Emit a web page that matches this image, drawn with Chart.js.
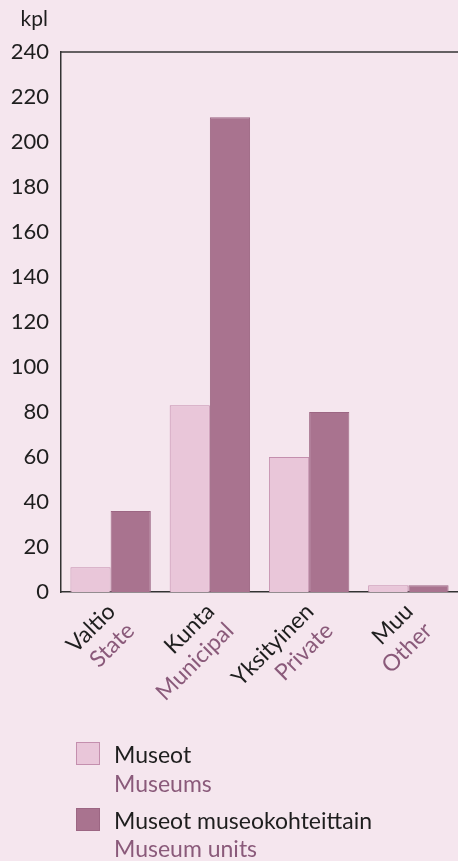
<!DOCTYPE html>
<html>
<head>
<meta charset="utf-8">
<script src="https://cdn.jsdelivr.net/npm/chart.js@4"></script>
<style>
html,body{margin:0;padding:0;background:#f5e6ee;}
#c{display:block;}
</style>
</head>
<body>
<canvas id="c" width="458" height="861"></canvas>
<script>
const categoriesFi = ["Valtio", "Kunta", "Yksityinen", "Muu"];
const categoriesEn = ["State", "Municipal", "Private", "Other"];
const museums = [11, 83, 60, 3];
const museumUnits = [36, 211, 80, 3];
const seriesFi = ["Museot", "Museot museokohteittain"];
const seriesEn = ["Museums", "Museum units"];
const yTicks = [0, 20, 40, 60, 80, 100, 120, 140, 160, 180, 200, 220, 240];
const unitLabel = "kpl";

const FONT = "Lato, 'Open Sans', sans-serif";
const DARK = "#1e1e1e";
const PINK_TEXT = "#8a5a7a";
const LIGHT_FILL = "#e9c6d9";
const LIGHT_BORDER = "#c48fae";
const DARK_FILL = "#a9738f";
const DARK_BORDER = "#9c6683";

const decor = {
  id: 'decor',
  afterDraw(chart) {
    const ctx = chart.ctx;
    const a = chart.chartArea;
    const x = chart.scales.x;
    ctx.save();
    // top frame line
    ctx.strokeStyle = "#333";
    ctx.lineWidth = 1.5;
    ctx.beginPath();
    ctx.moveTo(a.left, a.top);
    ctx.lineTo(chart.width, a.top);
    ctx.stroke();
    // unit label
    ctx.fillStyle = DARK;
    ctx.font = "21px " + FONT;
    ctx.textAlign = "right";
    ctx.textBaseline = "alphabetic";
    ctx.fillText(unitLabel, 48, 26);
    // x labels, rotated
    const ang = -45 * Math.PI / 180;
    const perp = 27;
    categoriesFi.forEach((fi, i) => {
      const cx = x.getPixelForValue(i);
      const ax = cx + 6, ay = 613;
      ctx.save();
      ctx.translate(ax, ay);
      ctx.rotate(ang);
      ctx.textAlign = "right";
      ctx.font = "23px " + FONT;
      ctx.fillStyle = DARK;
      ctx.fillText(fi, 0, 0);
      ctx.fillStyle = PINK_TEXT;
      ctx.fillText(categoriesEn[i], 0, perp);
      ctx.restore();
    });
    // legend
    const fills = [LIGHT_FILL, DARK_FILL];
    const borders = [LIGHT_BORDER, DARK_BORDER];
    const sqTop = [742, 808];
    const base1 = [763, 829];
    const base2 = [792, 857];
    ctx.textAlign = "left";
    for (let k = 0; k < 2; k++) {
      ctx.fillStyle = fills[k];
      ctx.fillRect(76, sqTop[k], 24, 23);
      ctx.strokeStyle = borders[k];
      ctx.lineWidth = 1;
      ctx.strokeRect(76.5, sqTop[k] + 0.5, 23, 22);
      ctx.font = "23px " + FONT;
      ctx.fillStyle = DARK;
      ctx.fillText(seriesFi[k], 114, base1[k]);
      ctx.fillStyle = PINK_TEXT;
      ctx.fillText(seriesEn[k], 114, base2[k]);
    }
    ctx.restore();
  }
};

new Chart(document.getElementById('c'), {
  type: 'bar',
  data: {
    labels: categoriesFi,
    datasets: [
      { label: seriesFi[0], data: museums, backgroundColor: LIGHT_FILL, borderColor: LIGHT_BORDER, borderWidth: 1, borderSkipped: 'bottom' },
      { label: seriesFi[1], data: museumUnits, backgroundColor: DARK_FILL, borderColor: DARK_BORDER, borderWidth: 1, borderSkipped: 'bottom' }
    ]
  },
  options: {
    responsive: false,
    animation: false,
    devicePixelRatio: 1,
    events: [],
    layout: { padding: { top: 52, right: 0, bottom: 269, left: 0 } },
    plugins: { legend: { display: false }, tooltip: { enabled: false } },
    datasets: { bar: { categoryPercentage: 0.81, barPercentage: 1.0 } },
    scales: {
      x: {
        grid: { display: false, drawTicks: false },
        border: { display: true, color: "#333", width: 1.5 },
        ticks: { display: false },
        afterFit(s) { s.height = 0; }
      },
      y: {
        min: 0, max: 240,
        grid: { display: false, drawTicks: false },
        border: { display: true, color: "#333", width: 1.5 },
        afterBuildTicks(s) { s.ticks = yTicks.map(v => ({ value: v })); },
        ticks: { padding: 12, color: DARK, font: { family: FONT, size: 22 } },
        afterFit(s) { s.width = 61; }
      }
    }
  },
  plugins: [decor]
});
</script>
</body>
</html>
